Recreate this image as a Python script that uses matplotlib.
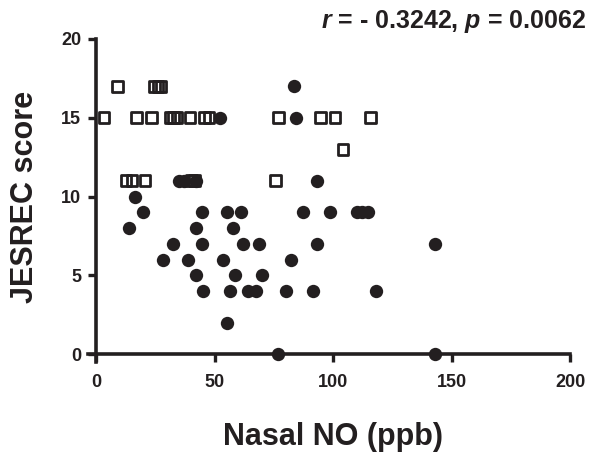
import matplotlib
matplotlib.use("Agg")
import matplotlib.pyplot as plt

plt.rcParams['font.family'] = ['Liberation Sans', 'DejaVu Sans']
plt.rcParams['font.weight'] = 'bold'
plt.rcParams['mathtext.fontset'] = 'custom'
plt.rcParams['mathtext.it'] = 'Liberation Sans:bold:italic'
plt.rcParams['mathtext.rm'] = 'Liberation Sans:bold'

ink = '#231f20'

# open squares (nasal NO, JESREC score)
sq_x = [8.9, 24.5, 26.0, 27.3,
        3.2, 17.0, 23.1, 31.0, 32.5, 34.0, 39.5, 45.5, 47.5, 76.7, 94.6, 100.6, 115.7,
        104.0,
        12.5, 15.0, 20.5, 40.0, 41.5, 75.7]
sq_y = [17, 17, 17, 17,
        15, 15, 15, 15, 15, 15, 15, 15, 15, 15, 15, 15, 15,
        13,
        11, 11, 11, 11, 11, 11]

# filled circles
ci_x = [83.5,
        52.0, 84.0,
        35.0, 37.0, 42.0, 92.9,
        16.2,
        19.5, 44.4, 54.9, 61.0, 87.3, 98.5, 109.8, 111.9, 114.7,
        13.8, 41.9, 57.5,
        32.4, 44.4, 61.7, 68.7, 92.9, 142.8,
        27.9, 38.7, 53.5, 82.1,
        42.0, 58.4, 69.7,
        44.8, 56.3, 63.8, 67.3, 80.0, 91.2, 117.9,
        54.9,
        76.7, 142.8]
ci_y = [17,
        15, 15,
        11, 11, 11, 11,
        10,
        9, 9, 9, 9, 9, 9, 9, 9, 9,
        8, 8, 8,
        7, 7, 7, 7, 7, 7,
        6, 6, 6, 6,
        5, 5, 5,
        4, 4, 4, 4, 4, 4, 4,
        2,
        0, 0]

x_ticks = [0, 50, 100, 150, 200]
y_ticks = [0, 5, 10, 15, 20]

fig = plt.figure(figsize=(5.89, 4.55), dpi=100)
ax = fig.add_axes([0.150, 0.2046, 0.8185, 0.7097])

ax.scatter(sq_x, sq_y, marker='s', s=7.7**2, facecolors='none', edgecolors=ink,
           linewidths=2.0, zorder=3, clip_on=False)
ax.scatter(ci_x, ci_y, marker='o', s=9.6**2, color=ink, linewidths=0,
           zorder=4, clip_on=False)

ax.set_xlim(-3.4, 200)
ax.set_ylim(-0.5, 20)
ax.set_xticks(x_ticks)
ax.set_yticks(y_ticks)

ax.spines['top'].set_visible(False)
ax.spines['right'].set_visible(False)
ax.spines['left'].set_position(('data', 0))
ax.spines['bottom'].set_position(('data', 0))
for side in ['left', 'bottom']:
    ax.spines[side].set_linewidth(2.6)
    ax.spines[side].set_color(ink)

ax.tick_params(axis='both', direction='out', length=5.5, width=2.4, color=ink,
               labelsize=13, labelcolor=ink)
ax.tick_params(axis='y', pad=5.5)
ax.tick_params(axis='x', pad=9)

fig.text(332.5 / 589, 1 - 445 / 455, 'Nasal NO (ppb)', ha='center', va='baseline',
         fontsize=22, fontweight='bold', color=ink)
fig.text(25 / 589, 1 - 197 / 455, 'JESREC score', ha='center', va='center',
         rotation=90, fontsize=22, fontweight='bold', color=ink)
fig.text(586 / 589, 1 - 28 / 455, r'$r$ = - 0.3242, $p$ = 0.0062', ha='right',
         va='baseline', fontsize=18, fontweight='bold', color=ink)

fig.savefig('out.png', dpi=100)
